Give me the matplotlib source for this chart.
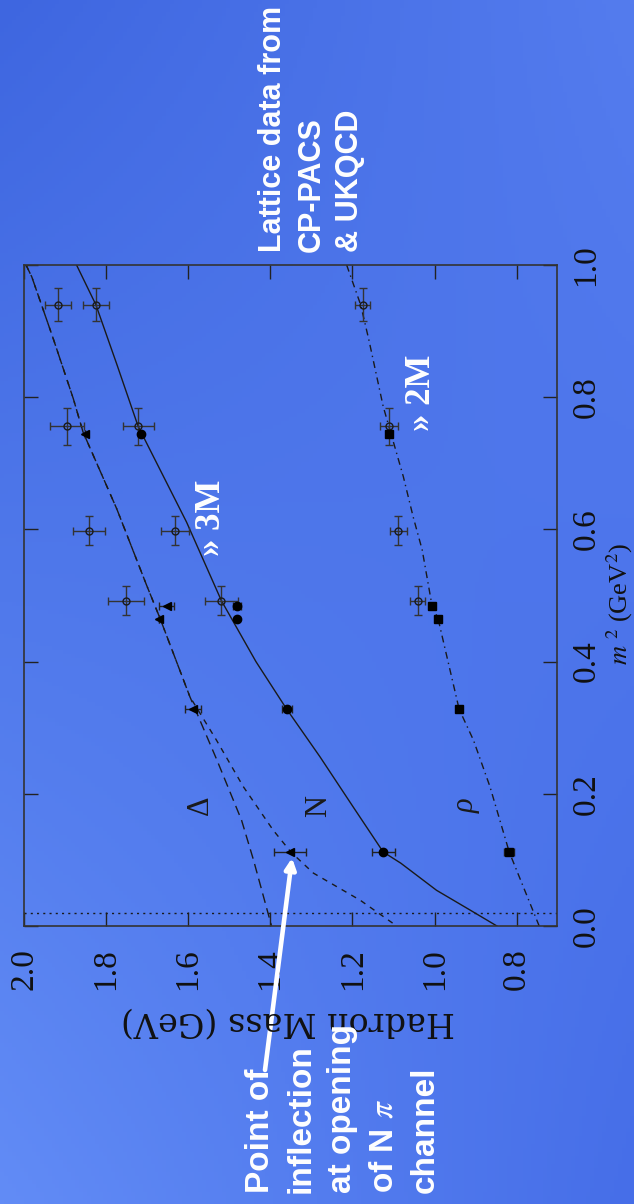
import numpy as np
import matplotlib
matplotlib.use("Agg")
import matplotlib.pyplot as plt
from matplotlib.ticker import FormatStrFormatter, FixedLocator

plt.rcParams["mathtext.fontset"] = "stix"

# ---------------- data ----------------
# lattice points, open symbols (m_pi^2 in GeV^2, masses in GeV)
m2_open = [0.940, 0.756, 0.598, 0.492]
m2_open_err = [0.025, 0.028, 0.022, 0.022]
delta_open = [1.918, 1.896, 1.841, 1.752]
delta_open_err = [0.032, 0.041, 0.039, 0.044]
nucleon_open = [1.825, 1.722, 1.632, 1.519]
nucleon_open_err = [0.031, 0.038, 0.035, 0.040]
rho_open = [1.175, 1.110, 1.088, 1.041]
rho_open_err = [0.018, 0.022, 0.020, 0.018]

# lattice points, filled symbols
m2_filled = [0.745, 0.484, 0.464, 0.328, 0.112]
delta_filled = [1.851, 1.652, 1.670, 1.589, 1.352]
delta_filled_err = [0.0, 0.018, 0.0, 0.020, 0.040]
nucleon_filled = [1.715, 1.482, 1.482, 1.360, 1.125]
nucleon_filled_err = [0.0, 0.010, 0.0, 0.012, 0.028]
rho_filled = [1.110, 1.007, 0.991, 0.940, 0.818]
rho_filled_err = [0.0, 0.0, 0.0, 0.0, 0.012]

# fitted curves
nucleon_curve_m2 = [1.0, 0.94, 0.85, 0.756, 0.611, 0.492, 0.40, 0.328, 0.256, 0.180, 0.112, 0.095, 0.054, 0.024, 0.0]
nucleon_curve_mass = [1.872, 1.825, 1.774, 1.722, 1.604, 1.519, 1.435, 1.360, 1.279, 1.198, 1.125, 1.082, 0.995, 0.913, 0.848]

delta_a_m2 = [1.0, 0.982, 0.889, 0.798, 0.747, 0.631, 0.515, 0.466, 0.347, 0.251, 0.160, 0.100, 0.0]
delta_a_mass = [1.995, 1.981, 1.929, 1.880, 1.856, 1.774, 1.701, 1.669, 1.596, 1.530, 1.470, 1.441, 1.397]

delta_b_m2 = [1.0, 0.982, 0.889, 0.798, 0.747, 0.631, 0.515, 0.466, 0.347, 0.281, 0.211, 0.145, 0.112, 0.080, 0.039, 0.0]
delta_b_mass = [1.995, 1.981, 1.929, 1.880, 1.856, 1.774, 1.701, 1.669, 1.596, 1.531, 1.466, 1.393, 1.350, 1.295, 1.181, 1.092]

rho_curve_m2 = [1.0, 0.94, 0.887, 0.786, 0.680, 0.619, 0.569, 0.488, 0.464, 0.328, 0.281, 0.211, 0.112, 0.0]
rho_curve_mass = [1.214, 1.180, 1.160, 1.125, 1.076, 1.052, 1.030, 1.007, 0.991, 0.940, 0.905, 0.865, 0.818, 0.745]

m2_phys = 0.0195

mass_ticks = [0.8, 1.0, 1.2, 1.4, 1.6, 1.8, 2.0]
m2_ticks = [0.0, 0.2, 0.4, 0.6, 0.8, 1.0]
mass_limits = (2.0, 0.7016)
m2_limits = (0.0, 1.0)

# ---------------- figure ----------------
W, H = 634, 1204
fig = plt.figure(figsize=(W / 100, H / 100), dpi=100)

# background gradient (slide), bilinear between corner colours
bg = fig.add_axes([0, 0, 1, 1], zorder=-10)
yy, xx = np.mgrid[0:1:300j, 0:1:160j]
c_tl = np.array([62, 102, 224]) / 255.0
c_tr = np.array([84, 124, 238]) / 255.0
c_bl = np.array([98, 140, 246]) / 255.0
c_br = np.array([70, 110, 232]) / 255.0
xx3, yy3 = xx[..., None], yy[..., None]
img = (c_tl * (1 - xx3) * (1 - yy3) + c_tr * xx3 * (1 - yy3)
       + c_bl * (1 - xx3) * yy3 + c_br * xx3 * yy3)
bg.imshow(np.clip(img, 0, 1), aspect="auto", extent=[0, 1, 0, 1], origin="upper")
bg.set_axis_off()

ax = fig.add_axes([24 / W, 1 - 926 / H, 533 / W, 661 / H])
ax.set_facecolor("none")
ax.set_xlim(*mass_limits)
ax.set_ylim(*m2_limits)

ink = "#1a1a1a"
ax.plot(nucleon_curve_mass, nucleon_curve_m2, color=ink, lw=1.0)
ax.plot(delta_a_mass, delta_a_m2, color=ink, lw=1.0, dashes=(7, 4))
ax.plot(delta_b_mass, delta_b_m2, color=ink, lw=1.0, dashes=(4, 4))
ax.plot(rho_curve_mass, rho_curve_m2, color=ink, lw=1.0, dashes=(5, 3, 1, 3))
ax.axhline(m2_phys, color=ink, lw=1.0, ls=(0, (1.5, 3)))

for vals, errs in [(delta_open, delta_open_err), (nucleon_open, nucleon_open_err), (rho_open, rho_open_err)]:
    ax.errorbar(vals, m2_open, xerr=errs, yerr=m2_open_err, fmt="o", mfc="none", mec=ink,
                ms=5, mew=1.0, ecolor="#333333", elinewidth=1.0, capsize=3)

for vals, errs, mk in [(delta_filled, delta_filled_err, "<"), (nucleon_filled, nucleon_filled_err, "o"),
                       (rho_filled, rho_filled_err, "s")]:
    ax.errorbar(vals, m2_filled, xerr=errs, fmt=mk, color="black", ms=6,
                ecolor="#222222", elinewidth=1.0, capsize=3)

serif = ["Liberation Serif", "DejaVu Serif"]
ax.xaxis.set_major_locator(FixedLocator(mass_ticks))
ax.yaxis.set_major_locator(FixedLocator(m2_ticks))
ax.xaxis.set_major_formatter(FormatStrFormatter("%.1f"))
ax.yaxis.set_major_formatter(FormatStrFormatter("%.1f"))
ax.tick_params(direction="in", length=10, width=1.0, color="#222222", top=True, right=True,
               left=True, bottom=True, labelleft=False, labelright=True)
ax.tick_params(axis="x", pad=16)
ax.tick_params(axis="y", pad=10)
for lab in ax.get_xticklabels():
    lab.set_rotation(90)
    lab.set_fontsize(24)
    lab.set_family(serif)
    lab.set_color("#111111")
for lab in ax.get_yticklabels():
    lab.set_rotation(90)
    lab.set_fontsize(24)
    lab.set_family(serif)
    lab.set_va("center")
    lab.set_color("#111111")
for sp in ax.spines.values():
    sp.set_color("#333333")
    sp.set_linewidth(1.2)

# curve labels
ax.text(1.571, 0.182, "Δ", rotation=90, ha="center", va="center", fontsize=22, family=serif, color=ink)
ax.text(1.283, 0.182, "N", rotation=90, ha="center", va="center", fontsize=22, family=serif, color=ink)
ax.text(0.922, 0.182, "ρ", rotation=90, ha="center", va="center", fontsize=22, family=serif,
        style="italic", color=ink)

# axis titles
fig.text(288 / W, 1 - 1021 / H, "Hadron Mass (GeV)", rotation=180, ha="center", va="center",
         fontsize=24, family=["DejaVu Serif"], color="#111111")
fig.text(620 / W, 1 - 604 / H, r"$m$ $^2$ (GeV$^2$)", rotation=90, ha="center", va="center",
         fontsize=19, family=serif, color="#111111")

# slide annotations
sans = ["Liberation Sans", "DejaVu Sans"]
fig.text(258 / W, 1 - 252 / H, "Lattice data from\nCP-PACS\n& UKQCD", rotation=90, ha="left",
         va="bottom", multialignment="left", linespacing=1.37, fontsize=22, weight="bold",
         family=sans, color="white")
fig.text(245 / W, 1 - 1193 / H, "Point of\ninflection\nat opening\nof N $\\pi$\nchannel", rotation=90,
         ha="left", va="bottom", multialignment="left", linespacing=1.42, fontsize=24, weight="bold",
         family=sans, color="white")
fig.text(212 / W, 1 - 556 / H, "» 3M", rotation=90, ha="center", va="bottom", fontsize=25,
         weight="bold", family=serif, color="white")
fig.text(421 / W, 1 - 431 / H, "» 2M", rotation=90, ha="center", va="bottom", fontsize=25,
         weight="bold", family=serif, color="white")

ax.annotate("", xy=(1.347, 0.103), xycoords="data", xytext=(265, H - 1070), textcoords="figure pixels",
            arrowprops=dict(arrowstyle="-|>", color="white", lw=3.3, mutation_scale=16,
                            shrinkA=0, shrinkB=0), annotation_clip=False)

fig.savefig("out.png", dpi=100)
